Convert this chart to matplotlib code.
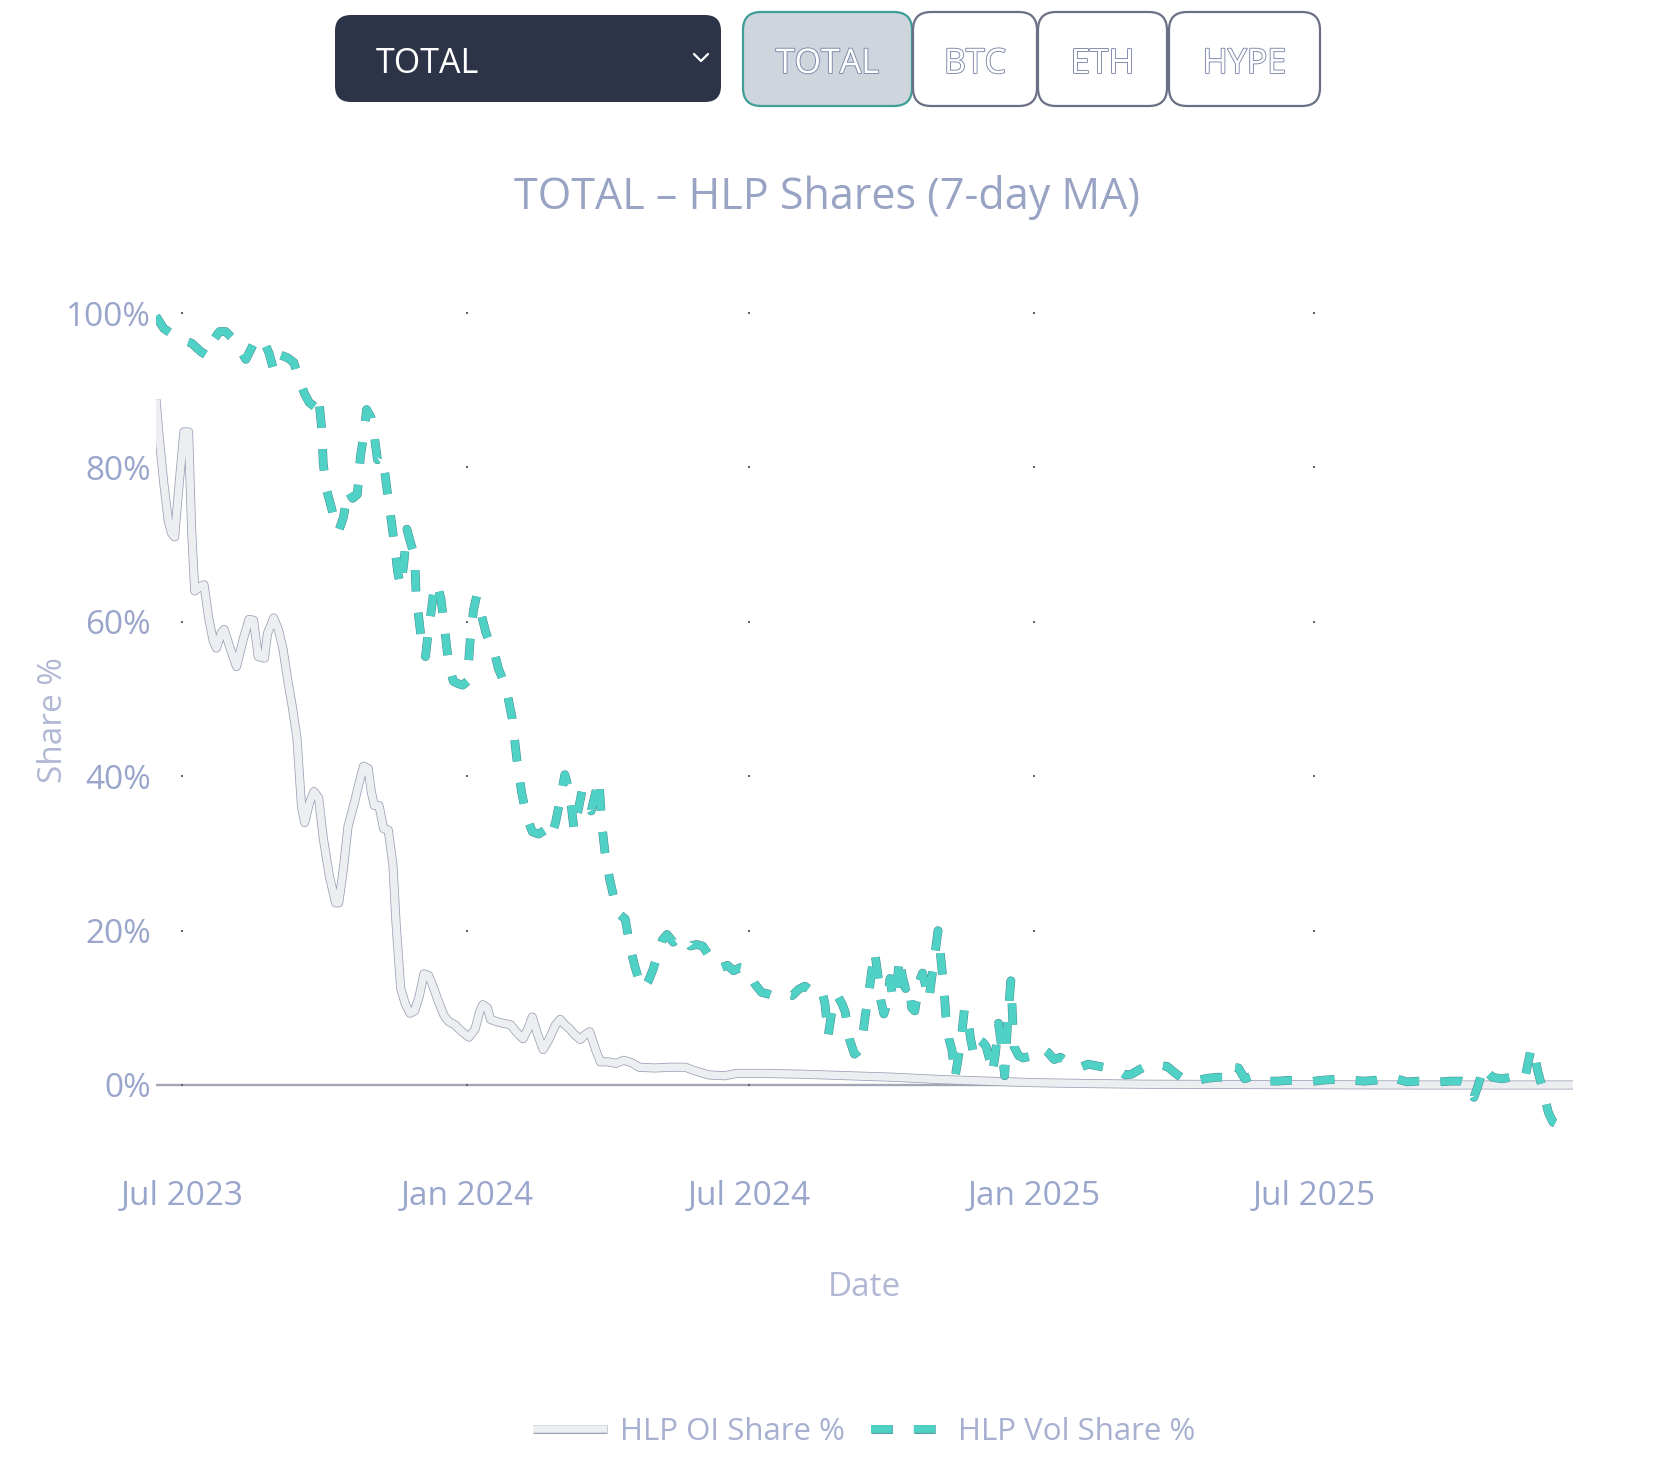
import matplotlib
matplotlib.use('Agg')
import matplotlib.pyplot as plt
import matplotlib.patheffects as pe
from matplotlib.patches import FancyBboxPatch
import numpy as np
import pandas as pd

plt.rcParams['font.family'] = ['Open Sans', 'DejaVu Sans']

# ---------------- data ----------------
BASE_DATE = '2023-07-01'   # day offsets below are days since this date

oi_day = [-17, -15, -12, -9, -7, -5, -2, 1, 4, 6, 8, 11, 14, 17, 20, 22, 25, 27, 31, 35,
          39, 43, 46, 49, 53, 55, 59, 62, 65, 68, 71, 74, 77, 79, 82, 85, 88, 91, 95, 99,
          101, 104, 107, 111, 114, 117, 120, 122, 124, 127, 130, 133, 136, 138, 141, 144,
          147, 150, 153, 156, 159, 162, 165, 169, 172, 176, 180, 185, 189, 192, 194, 197,
          199, 203, 207, 212, 216, 220, 223, 226, 229, 233, 237, 241, 244, 247, 250, 253,
          257, 260, 263, 267, 270, 275, 280, 285, 290, 295, 305, 315, 325, 330, 340, 350,
          358, 375, 400, 430, 460, 490, 520, 550, 580, 620, 700, 800, 898]
oi_share = [88.8, 84.0, 78.0, 73.0, 71.5, 71.0, 78.0, 84.6, 84.6, 72.0, 64.0, 64.5, 64.8,
            60.5, 57.5, 56.6, 58.5, 59.0, 56.5, 54.2, 57.5, 60.3, 60.2, 55.5, 55.3, 58.5,
            60.5, 59.0, 56.5, 52.5, 49.0, 45.0, 36.0, 34.0, 36.5, 38.0, 37.2, 32.0, 27.0,
            23.6, 23.6, 28.0, 33.5, 36.5, 39.0, 41.3, 41.0, 38.0, 36.2, 36.2, 33.2, 33.0,
            28.5, 21.0, 12.5, 10.5, 9.3, 9.6, 11.5, 14.4, 14.2, 12.7, 11.0, 9.0, 8.2, 7.8,
            7.0, 6.2, 7.2, 9.5, 10.4, 10.0, 8.5, 8.2, 8.0, 7.8, 6.8, 6.0, 7.2, 8.8, 6.8,
            4.6, 6.0, 7.8, 8.5, 7.8, 7.3, 6.6, 5.9, 6.5, 6.9, 4.5, 3.0, 3.0, 2.8, 3.2, 2.9,
            2.3, 2.2, 2.3, 2.3, 1.9, 1.3, 1.2, 1.5, 1.5, 1.4, 1.2, 1.0, 0.7, 0.5, 0.3, 0.2,
            0.1, 0.05, 0.0, 0.0]

vol_day = [-17, -12, -6, 0, 6, 12, 16, 20, 24, 28, 33, 38, 41, 46, 50, 53, 56, 59, 63, 68,
           72, 75, 79, 82, 86, 88, 90, 91, 93, 96, 98, 101, 104, 107, 110, 113, 115, 117,
           119, 122, 124, 126, 129, 131, 133, 135, 137, 139, 141, 143, 145, 147, 150, 151,
           153, 155, 157, 159, 161, 163, 165, 167, 170, 172, 175, 178, 181, 184, 186, 188,
           190, 193, 196, 199, 201, 204, 207, 210, 213, 216, 219, 222, 226, 230, 234, 238,
           241, 244, 247, 250, 253, 256, 258, 261, 264, 267, 269, 271, 273, 276, 279, 283,
           286, 289, 292, 295, 298, 301, 304, 307, 310, 313, 317, 320, 324, 328, 332, 336,
           340, 344, 348, 352, 356, 360, 364, 367, 370, 374, 378, 382, 386, 390, 394, 398,
           402, 406, 410, 413, 415, 417, 419, 421, 423, 426, 428, 431, 434, 437, 439, 441,
           443, 445, 447, 449, 451, 453, 455, 457, 459, 461, 463, 465, 467, 469, 471, 473,
           476, 478, 480, 482, 484, 486, 488, 490, 492, 493, 495, 497, 499, 501, 503, 505,
           507, 509, 511, 513, 515, 517, 519, 521, 523, 525, 527, 529, 531, 533, 535, 537,
           540, 543, 547, 551, 555, 559, 563, 567, 571, 575, 580, 585, 590, 595, 600, 605,
           609, 613, 618, 624, 630, 636, 642, 648, 654, 660, 667, 672, 677, 679, 682, 686,
           690, 695, 700, 707, 714, 720, 727, 735, 742, 749, 756, 763, 770, 777, 784, 791,
           798, 805, 812, 819, 826, 830, 832, 834, 836, 838, 840, 843, 846, 852, 858, 863,
           867, 871, 873, 875, 877, 879, 882, 885, 889]
vol_share = [99.6, 98.0, 97.2, 96.5, 96.1, 95.0, 94.5, 96.5, 97.6, 97.6, 96.6, 95.0, 94.0,
             96.0, 96.8, 96.2, 94.8, 92.6, 94.6, 94.2, 93.6, 91.6, 89.5, 88.4, 87.8, 89.1,
             85.0, 80.5, 77.2, 75.0, 73.4, 71.8, 73.5, 77.0, 76.0, 76.5, 81.4, 84.0, 87.5,
             86.4, 84.0, 81.0, 81.4, 79.0, 75.8, 73.0, 70.0, 66.5, 64.6, 67.5, 72.0, 70.5,
             68.5, 63.3, 60.0, 56.5, 55.5, 59.0, 61.8, 65.0, 64.5, 63.0, 58.0, 54.5, 52.3,
             52.0, 51.8, 52.3, 58.0, 61.5, 63.3, 61.0, 58.6, 57.0, 56.5, 54.0, 52.5, 50.5,
             47.5, 42.2, 38.0, 35.0, 32.8, 32.5, 33.0, 32.0, 34.0, 37.0, 40.2, 38.0, 33.0,
             36.0, 38.0, 36.6, 35.5, 38.0, 39.6, 33.5, 30.0, 26.6, 24.0, 22.0, 21.5, 18.0,
             15.5, 13.5, 12.5, 13.5, 15.0, 17.0, 18.8, 19.5, 18.5, 19.0, 19.2, 18.0, 18.2,
             18.0, 16.8, 15.8, 15.2, 15.5, 14.8, 15.2, 15.0, 14.2, 13.0, 12.0, 11.8, 11.5,
             11.6, 11.8, 11.6, 12.4, 12.8, 12.2, 12.6, 12.2, 10.5, 6.3, 9.0, 11.0, 11.6,
             10.5, 9.5, 5.8, 4.0, 4.5, 5.8, 9.0, 11.5, 14.5, 17.3, 14.5, 11.0, 9.2, 10.5,
             13.8, 11.0, 12.0, 16.5, 14.0, 12.5, 13.2, 10.0, 9.6, 13.5, 14.5, 12.8, 11.0,
             14.0, 17.0, 20.0, 16.0, 12.0, 9.0, 6.0, 4.5, 1.0, 3.5, 6.0, 9.8, 9.0, 6.0, 4.0,
             5.5, 5.8, 5.5, 5.0, 3.5, 1.5, 4.0, 8.0, 5.0, 1.2, 8.5, 13.5, 5.0, 3.8, 3.5,
             3.7, 4.3, 4.8, 4.2, 3.3, 3.6, 3.0, 2.8, 2.3, 2.7, 2.5, 2.3, 2.0, 1.8, 1.3, 1.4,
             2.0, 2.6, 2.6, 2.4, 1.4, 0.6, 0.5, 0.8, 1.0, 1.0, 0.9, 2.3, 2.2, 0.8, 1.1, 0.9,
             0.5, 0.5, 0.6, 0.6, 0.4, 0.6, 0.7, 0.8, 0.6, 0.5, 0.6, 0.9, 0.8, 0.4, 0.5, 0.5,
             0.4, 0.5, 0.5, 0.3, -0.8, -1.6, -0.5, 0.8, 2.4, 1.6, 1.0, 0.8, 1.0, 0.6, 0.9,
             4.8, 4.5, 2.0, 0.5, -1.0, -3.5, -4.8, -5.2]

x_tick_dates = ['2023-07-01', '2024-01-01', '2024-07-01', '2025-01-01', '2025-07-01']
x_tick_labels = ['Jul 2023', 'Jan 2024', 'Jul 2024', 'Jan 2025', 'Jul 2025']
y_ticks = [0, 20, 40, 60, 80, 100]
y_tick_labels = ['0%', '20%', '40%', '60%', '80%', '100%']

series_names = ['HLP OI Share %', 'HLP Vol Share %']
selector_options = ['TOTAL', 'BTC', 'ETH', 'HYPE']
selected_option = 'TOTAL'
chart_title = 'TOTAL – HLP Shares (7-day MA)'
x_title = 'Date'
y_title = 'Share %'

# ---------------- figure ----------------
W, H = 1653, 1475
fig = plt.figure(figsize=(W / 100, H / 100), dpi=100, facecolor='white')

base = pd.Timestamp(BASE_DATE)
oi_dates = base + pd.to_timedelta(oi_day, unit='D')
vol_dates = base + pd.to_timedelta(vol_day, unit='D')

ax = fig.add_axes([156 / W, (H - 1164.5) / H, 1417 / W, 888.5 / H])
ax.set_facecolor('white')
for s in ax.spines.values():
    s.set_visible(False)

# zero line
ax.axhline(0, color='#a3a6b4', lw=1.7, zorder=1)

# grid "dots" at tick intersections
tick_dt = pd.to_datetime(x_tick_dates)
gx, gy = np.meshgrid(np.arange(len(tick_dt)), np.arange(len(y_ticks)))
ax.scatter(tick_dt[gx.ravel()], np.array(y_ticks)[gy.ravel()], marker='s', s=4.5,
           color='#5d6275', linewidths=0, zorder=1.5)

oi_line, = ax.plot(oi_dates, oi_share, color='#eceef1', lw=5.4, label=series_names[0],
                   solid_joinstyle='round', solid_capstyle='butt', zorder=2)
oi_line.set_path_effects([pe.Stroke(linewidth=6.5, foreground='#9aa0b5'), pe.Normal()])

vol_line, = ax.plot(vol_dates, vol_share, color='#4fd1c5', lw=5.6, label=series_names[1],
                    dash_capstyle='butt', dash_joinstyle='round', zorder=3)
vol_line.set_dashes((2.75, 2.75))
vol_line.set_path_effects([pe.Stroke(linewidth=6.3, foreground='#4a8c94'), pe.Normal()])

ax.set_xlim(base + pd.Timedelta(days=-17), base + pd.Timedelta(days=898))
ax.set_ylim(-10.3, 104.8)

ax.set_xticks(tick_dt)
ax.set_xticklabels(x_tick_labels)
ax.set_yticks(y_ticks)
ax.set_yticklabels(y_tick_labels)
ax.tick_params(axis='both', length=0, labelsize=24, labelcolor='#9aa5cc')
ax.tick_params(axis='y', pad=3.6)
ax.tick_params(axis='x', pad=11)

ax.set_ylabel(y_title, fontsize=24, color='#b0b8d4')
ax.yaxis.set_label_coords(-0.061, 0.5)
ax.set_xlabel(x_title, fontsize=24, color='#b0b8d4')
ax.xaxis.set_label_coords(0.5, -0.12)

fig.text(0.5, 1 - 197 / H, chart_title, ha='center', va='center', fontsize=31,
         color='#99a3c4')

fig.legend(handles=[oi_line, vol_line], loc='center', bbox_to_anchor=(0.5227, 1 - 1432 / H),
           ncol=2, frameon=False, fontsize=22.5, labelcolor='#a7b0d0',
           handlelength=2.35, handletextpad=0.42, columnspacing=0.85)

# ---------------- selector UI on top ----------------
ui = fig.add_axes([0, 0, 1, 1])
ui.set_xlim(0, W)
ui.set_ylim(H, 0)
ui.axis('off')
ui.patch.set_alpha(0)

ui.add_patch(FancyBboxPatch((335, 15), 386, 87, boxstyle='round,pad=0,rounding_size=16',
                            fc='#2e3447', ec='none'))
ui.text(376, 64, selected_option, ha='left', va='center', fontsize=24.5, color='white')
ui.plot([694, 701, 708], [54, 61, 54], color='white', lw=1.6, solid_capstyle='round')

btn_bounds = [(743, 912), (913, 1037), (1038, 1167), (1169, 1320)]
outline = [pe.withStroke(linewidth=1.3, foreground='#7c86aa')]
for (x0, x1), name in zip(btn_bounds, selector_options):
    sel = name == selected_option
    ui.add_patch(FancyBboxPatch((x0, 12), x1 - x0, 94,
                                boxstyle='round,pad=0,rounding_size=18',
                                fc='#cfd5dc' if sel else 'white',
                                ec='#3f9e98' if sel else '#6b7085', lw=1.6))
    ui.text((x0 + x1) / 2, 64, name, ha='center', va='center', fontsize=24.5,
            color='white', path_effects=outline)

fig.savefig('out.png', dpi=100, facecolor='white')
